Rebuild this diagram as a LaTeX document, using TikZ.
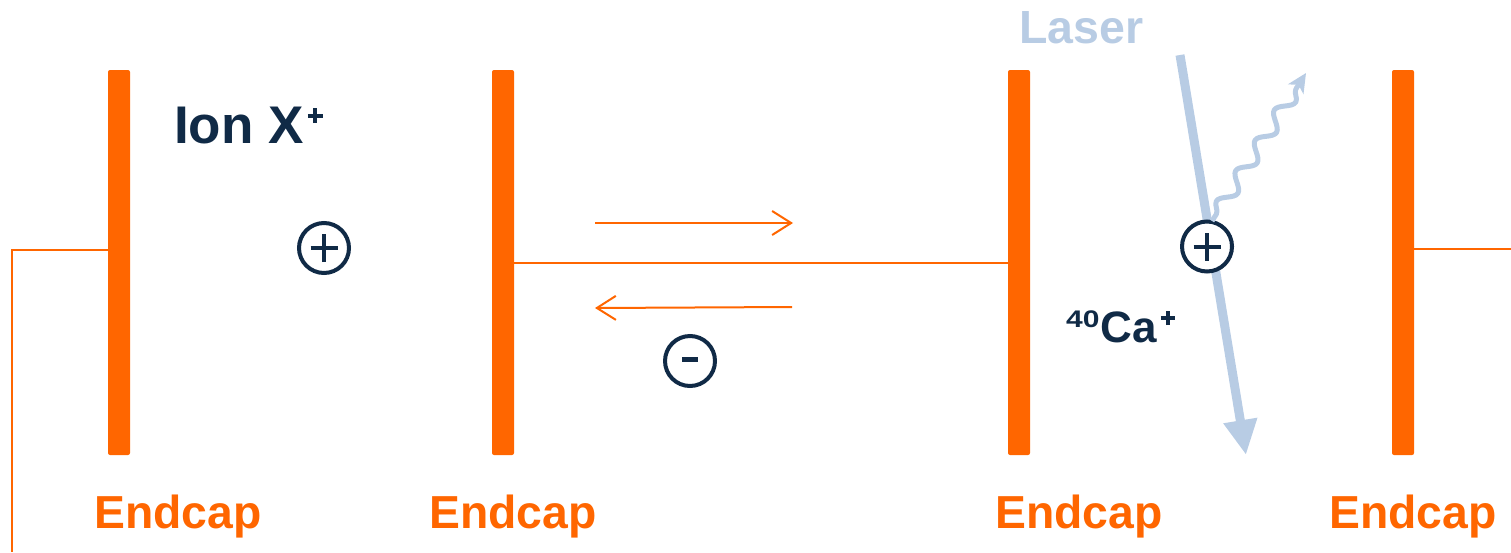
\documentclass[tikz,border=0pt]{standalone}
\usepackage{fontspec}
\setmainfont{Liberation Sans}
\usetikzlibrary{arrows.meta,decorations.pathmorphing}
\definecolor{capor}{HTML}{FF6600}
\definecolor{navy}{HTML}{102A46}
\definecolor{beam}{HTML}{B8CCE4}
% a heavy superscript plus built from two rules: #1 size, #2 stroke
\newcommand{\heavyplus}[2]{%
  \hbox to #1{\rlap{\raisebox{\dimexpr(#1-#2)/2\relax}{\rule{#1}{#2}}}%
  \hskip\dimexpr(#1-#2)/2\relax\rule{#2}{#1}\hss}}
\tikzset{
  endcap/.style={draw=none, fill=capor, rounded corners=2pt, minimum width=22pt,
    minimum height=385pt, inner sep=0pt},
  wire/.style={draw=capor, line width=2pt},
  drift/.style={draw=capor, line width=2pt, -{Straight Barb[length=19pt,width=24pt]}},
  caplabel/.style={text=capor, font=\bfseries\fontsize{46.3}{46}\selectfont, anchor=base west, inner sep=0pt},
  ion/.style={circle, draw=navy, fill=white, line width=4pt, minimum size=50pt, inner sep=0pt},
  sign/.style={draw=navy, line width=4pt},
  navytext/.style={text=navy, anchor=base west, inner sep=0pt},
  laser/.style={draw=beam, line width=9pt, -{Triangle[length=35pt,width=32pt]}},
  photon/.style={draw=beam, line width=5pt, line join=round, decorate,
    decoration={snake, amplitude=7pt, segment length=36pt, pre length=8pt, post length=18pt},
    -{Stealth[length=19pt,width=18pt,inset=5pt]}},
}
\begin{document}
\begin{tikzpicture}[x=1pt,y=-1pt]
\useasboundingbox (0,0) rectangle (1511,552);

% electrodes
\node[endcap] (bar1) at (119,262.5) {};
\node[endcap] (bar2) at (503,262.5) {};
\node[endcap] (bar3) at (1019,262.5) {};
\node[endcap] (bar4) at (1403,262.5) {};

% wiring
\coordinate (lbend) at (11.5,250);
\coordinate (lend) at (11.5,552);
\coordinate (rend) at (1511,249);
\draw[wire] ([yshift=12.5pt]bar1.west) -- (lbend) -- (lend);
\draw[wire] (bar2.east) -- (bar3.west);
\draw[wire] ([yshift=13.5pt]bar4.east) -- (rend);

% drift arrows
\coordinate (ra) at (595,223);
\coordinate (rb) at (793,223);
\coordinate (la) at (792,307);
\coordinate (lb) at (595,308);
\draw[drift] (ra) -- (rb);
\draw[drift] (la) -- (lb);

% laser beam
\coordinate (lasA) at (1180,55);
\coordinate (lasB) at (1246,455);
\draw[laser] (lasA) -- (lasB);

% ions
\node[ion] (ionX) at (324,248) {};
\draw[sign] ([xshift=-13.5pt]ionX.center) -- ([xshift=13.5pt]ionX.center);
\draw[sign] ([yshift=-14pt]ionX.center) -- ([yshift=14pt]ionX.center);

\node[ion] (elec) at (690,361) {};
\draw[draw=navy, line width=5.6pt] ([xshift=-8pt,yshift=1.5pt]elec.center) -- ([xshift=8pt,yshift=1.5pt]elec.center);

\node[ion] (ionCa) at (1207,246.5) {};
\draw[sign] ([xshift=-13.5pt]ionCa.center) -- ([xshift=13.5pt]ionCa.center);
\draw[sign] ([yshift=-14pt]ionCa.center) -- ([yshift=14pt]ionCa.center);

% fluorescence photon
\coordinate (phs) at (1212,221);
\coordinate (ph) at (1306,73);
\draw[photon] (phs) -- (ph);

% labels
\node[navytext, font=\bfseries\fontsize{53}{53}\selectfont] (lblX) at (174,143)
  {Ion X\kern4pt\raisebox{20pt}{\heavyplus{15pt}{4pt}}};
\node[navytext, font=\bfseries\fontsize{44}{44}\selectfont] (lblCa) at (1066,342)
  {\raisebox{15pt}{\scalebox{1.25}[1]{\fontsize{24}{24}\selectfont 40}}\kern1pt Ca\kern4pt\raisebox{17pt}{\heavyplus{14pt}{4pt}}};
\node[text=beam, font=\bfseries\fontsize{46.5}{46}\selectfont, anchor=base west, inner sep=0pt] (lblL) at (1019,43) {Laser};

\node[caplabel] (cap1) at (94,528) {Endcap};
\node[caplabel] (cap2) at (429,528) {Endcap};
\node[caplabel] (cap3) at (995,528) {Endcap};
\node[caplabel] (cap4) at (1329,528) {Endcap};
\end{tikzpicture}
\end{document}
